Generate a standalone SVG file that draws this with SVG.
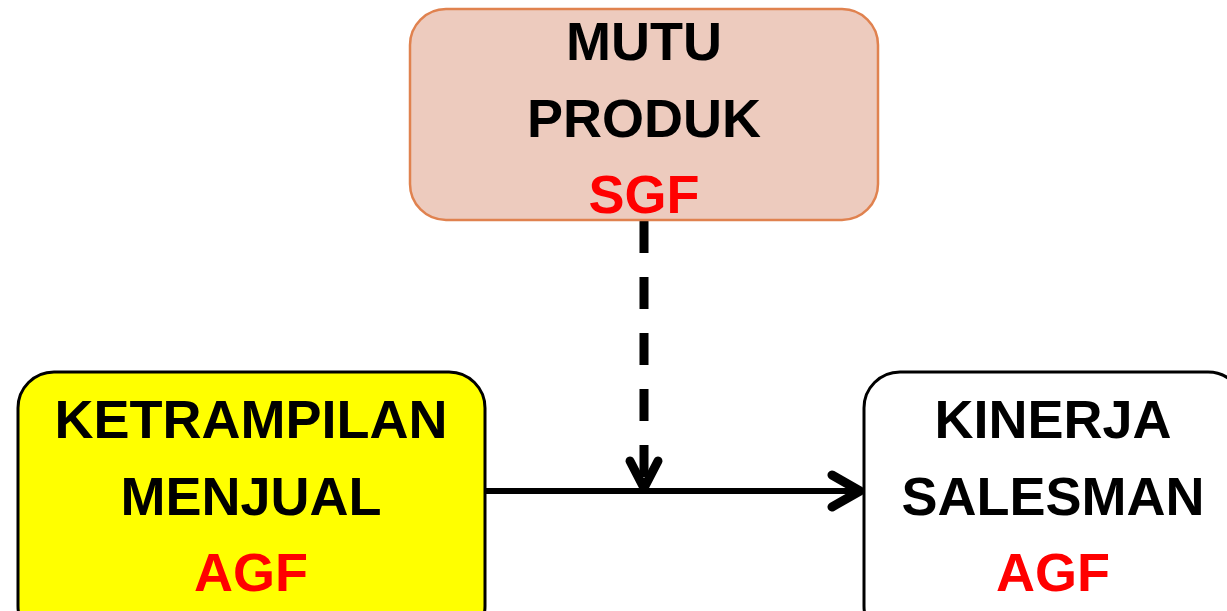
<svg xmlns="http://www.w3.org/2000/svg" width="1227" height="611" viewBox="0 0 1227 611">
<defs>
<style>
.t{font-family:"Liberation Sans",Arial,sans-serif;font-weight:bold;font-size:54px;text-anchor:middle;fill:#000}
.r{fill:#FF0000}
.ln{stroke:#000;fill:none;stroke-linecap:round;stroke-linejoin:round}
</style>
</defs>
<rect width="1227" height="611" fill="#fff"/>
<g id="connectors">
<line class="ln" x1="486" y1="491" x2="858" y2="491" stroke-width="6" style="stroke-linecap:butt"/>
<polyline class="ln" points="832,475 860,491 832,507" stroke-width="9"/>
<line x1="644" y1="221" x2="644" y2="480" stroke="#000" stroke-width="9" stroke-dasharray="32 24"/>
<polyline class="ln" points="630,461 644,488 658,461" stroke-width="9"/>
</g>
<g id="node-mutu">
<rect x="410" y="9" width="468" height="211" rx="36" fill="#EDCBBE" stroke="#E0824F" stroke-width="2.5"/>
<text class="t" x="644" y="60">MUTU</text>
<text class="t" x="644" y="137">PRODUK</text>
<text class="t r" x="644" y="213">SGF</text>
</g>
<g id="node-ketrampilan">
<rect x="18" y="372" width="467" height="270" rx="36" fill="#FFFF00" stroke="#000" stroke-width="3"/>
<text class="t" x="251" y="438">KETRAMPILAN</text>
<text class="t" x="251" y="515">MENJUAL</text>
<text class="t r" x="251" y="591">AGF</text>
</g>
<g id="node-kinerja">
<rect x="864" y="372" width="380" height="270" rx="36" fill="#fff" stroke="#000" stroke-width="3"/>
<text class="t" x="1053" y="438">KINERJA</text>
<text class="t" x="1053" y="515">SALESMAN</text>
<text class="t r" x="1053" y="591">AGF</text>
</g>
</svg>
